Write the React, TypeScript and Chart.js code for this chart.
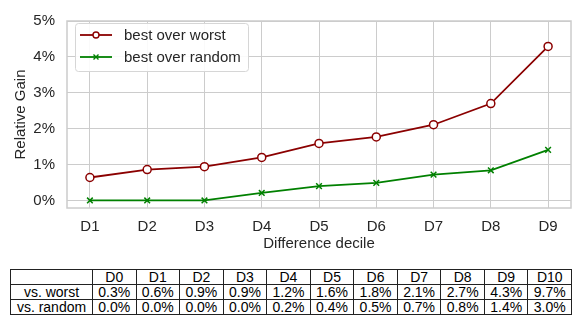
import React, { useEffect, useRef } from "react";
import { Chart, registerables } from "chart.js";
Chart.register(...registerables);

const categories = ["D1", "D2", "D3", "D4", "D5", "D6", "D7", "D8", "D9"];
const bestOverWorst = [0.64, 0.86, 0.94, 1.2, 1.59, 1.77, 2.11, 2.7, 4.29];
const bestOverRandom = [0, 0, 0, 0.21, 0.4, 0.49, 0.72, 0.84, 1.41];
const yTicks = [0, 1, 2, 3, 4, 5];
const seriesLabels = ["best over worst", "best over random"];
const tableHeaders = ["D0", "D1", "D2", "D3", "D4", "D5", "D6", "D7", "D8", "D9", "D10"];
const tableRowLabels = ["vs. worst", "vs. random"];
const tableWorst = ["0.3%", "0.6%", "0.9%", "0.9%", "1.2%", "1.6%", "1.8%", "2.1%", "2.7%", "4.3%", "9.7%"];
const tableRandom = ["0.0%", "0.0%", "0.0%", "0.0%", "0.2%", "0.4%", "0.5%", "0.7%", "0.8%", "1.4%", "3.0%"];

const FONT = "'Liberation Sans', Arial, sans-serif";
const TEXT = "#262626";
const GRID = "#cccccc";
const RED = "#8b0000";
const GREEN = "#008000";

const framePlugin = {
  id: "frame",
  afterDraw(chart: any) {
    const { ctx, chartArea } = chart;
    ctx.save();
    ctx.strokeStyle = GRID;
    ctx.lineWidth = 1.5;
    ctx.strokeRect(chartArea.left, chartArea.top, chartArea.right - chartArea.left, chartArea.bottom - chartArea.top);
    ctx.restore();
  },
};

const legendPlugin = {
  id: "customLegend",
  afterDraw(chart: any) {
    const { ctx } = chart;
    ctx.save();
    const x = 75.5, y = 23.5, w = 173, h = 48;
    ctx.beginPath();
    ctx.roundRect(x, y, w, h, 3);
    ctx.fillStyle = "rgba(255,255,255,0.9)";
    ctx.fill();
    ctx.strokeStyle = "#d6d6d6";
    ctx.lineWidth = 1;
    ctx.stroke();
    const rows = [35, 57];
    chart.data.datasets.forEach((ds: any, i: number) => {
      const ry = rows[i];
      ctx.strokeStyle = ds.borderColor;
      ctx.lineWidth = 1.8;
      ctx.beginPath();
      ctx.moveTo(80, ry);
      ctx.lineTo(112, ry);
      ctx.stroke();
      if (i === 0) {
        ctx.beginPath();
        ctx.arc(96, ry, 3, 0, Math.PI * 2);
        ctx.fillStyle = "#fff";
        ctx.fill();
        ctx.lineWidth = 1.4;
        ctx.stroke();
      } else {
        ctx.lineWidth = 1.4;
        ctx.beginPath();
        ctx.moveTo(93.5, ry - 2.5);
        ctx.lineTo(98.5, ry + 2.5);
        ctx.moveTo(98.5, ry - 2.5);
        ctx.lineTo(93.5, ry + 2.5);
        ctx.stroke();
      }
      ctx.fillStyle = TEXT;
      ctx.font = `15px ${FONT}`;
      ctx.textBaseline = "middle";
      ctx.textAlign = "left";
      ctx.fillText(ds.label, 124, ry + 1);
    });
    ctx.restore();
  },
};

function ChartView() {
  const ref = useRef<HTMLCanvasElement | null>(null);
  useEffect(() => {
    if (!ref.current) return;
    const chart = new Chart(ref.current, {
      type: "line",
      data: {
        datasets: [
          {
            label: seriesLabels[0],
            data: bestOverWorst.map((v, i) => ({ x: i, y: v })),
            borderColor: RED,
            backgroundColor: "#ffffff",
            borderWidth: 1.8,
            pointRadius: 4,
            pointBorderWidth: 1.5,
            pointBackgroundColor: "#ffffff",
            pointBorderColor: RED,
          },
          {
            label: seriesLabels[1],
            data: bestOverRandom.map((v, i) => ({ x: i, y: v })),
            borderColor: GREEN,
            backgroundColor: GREEN,
            borderWidth: 1.8,
            pointStyle: "crossRot",
            pointRadius: 4,
            pointBorderWidth: 1.5,
            pointBorderColor: GREEN,
          },
        ],
      },
      options: {
        animation: false,
        responsive: false,
        maintainAspectRatio: false,
        layout: { padding: { left: 0, right: 10, top: 15, bottom: 0 } },
        plugins: { legend: { display: false }, tooltip: { enabled: false } },
        scales: {
          x: {
            type: "linear",
            min: -0.4,
            max: categories.length - 1 + 0.4,
            afterBuildTicks: (s: any) => {
              s.ticks = categories.map((_, i) => ({ value: i }));
            },
            afterFit: (s: any) => {
              s.height = 52;
            },
            ticks: {
              callback: (v: any) => categories[v] ?? "",
              color: TEXT,
              font: { family: FONT, size: 15 },
              padding: 10,
              maxRotation: 0,
              autoSkip: false,
            },
            grid: { color: GRID, lineWidth: 1, drawTicks: false },
            border: { display: false },
            title: {
              display: true,
              text: "Difference decile",
              color: TEXT,
              font: { family: FONT, size: 15 },
              padding: { top: 0, bottom: 7 },
            },
          },
          y: {
            type: "linear",
            min: -0.21,
            max: 5,
            afterBuildTicks: (s: any) => {
              s.ticks = yTicks.map((v) => ({ value: v }));
            },
            afterFit: (s: any) => {
              s.width = 67;
            },
            ticks: {
              callback: (v: any) => `${v}%`,
              color: TEXT,
              font: { family: FONT, size: 15 },
              padding: 12,
            },
            grid: { color: GRID, lineWidth: 1, drawTicks: false },
            border: { display: false },
            title: {
              display: true,
              text: "Relative Gain",
              color: TEXT,
              font: { family: FONT, size: 15 },
              padding: { top: 12, bottom: 0 },
            },
          },
        },
      },
      plugins: [framePlugin, legendPlugin],
    } as any);
    return () => chart.destroy();
  }, []);
  return <canvas ref={ref} width={581} height={260} style={{ display: "block", width: 581, height: 260 }} />;
}

const cellStyle: React.CSSProperties = {
  border: "1px solid #222",
  padding: 0,
  height: 14,
  lineHeight: "14px",
  textAlign: "center",
  fontFamily: FONT,
  fontSize: 14,
  color: "#000",
  whiteSpace: "nowrap",
  overflow: "hidden",
};

export default function App() {
  return (
    <div style={{ position: "fixed", left: 0, top: 0, width: 581, height: 326, background: "#fff", overflow: "hidden" }}>
      <ChartView />
      <table
        style={{
          position: "absolute",
          left: 10,
          top: 269,
          width: 561,
          borderCollapse: "collapse",
          tableLayout: "fixed",
        }}
      >
        <colgroup>
          <col style={{ width: 82 }} />
          {tableHeaders.map((h) => (
            <col key={h} style={{ width: 43.55 }} />
          ))}
        </colgroup>
        <tbody>
          <tr>
            <td style={cellStyle}></td>
            {tableHeaders.map((h) => (
              <td key={h} style={cellStyle}>{h}</td>
            ))}
          </tr>
          <tr>
            <td style={cellStyle}>{tableRowLabels[0]}</td>
            {tableWorst.map((v, i) => (
              <td key={i} style={cellStyle}>{v}</td>
            ))}
          </tr>
          <tr>
            <td style={cellStyle}>{tableRowLabels[1]}</td>
            {tableRandom.map((v, i) => (
              <td key={i} style={cellStyle}>{v}</td>
            ))}
          </tr>
        </tbody>
      </table>
    </div>
  );
}
